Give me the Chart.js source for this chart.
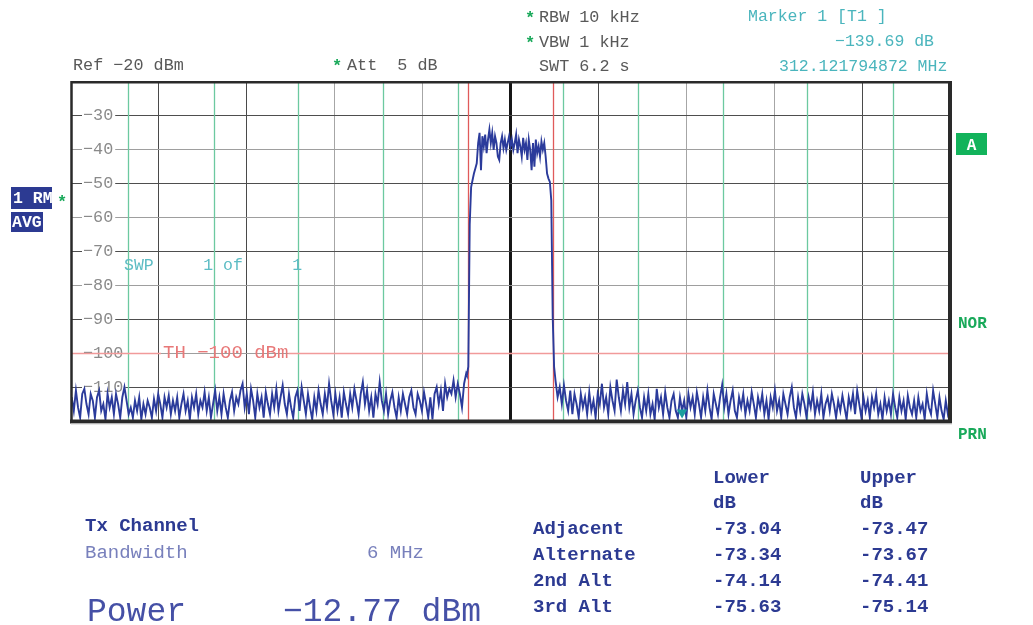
<!DOCTYPE html>
<html>
<head>
<meta charset="utf-8">
<title>Spectrum - ACP</title>
<script src="https://cdn.jsdelivr.net/npm/chart.js@4.4.1/dist/chart.umd.min.js"></script>
<style>
  html, body { margin: 0; padding: 0; background: #fff; }
  canvas { display: block; }
</style>
</head>
<body>
<canvas id="spectrum" width="1033" height="625"></canvas>
<script>
// frequency axis is offset from centre, in MHz; level axis in dBm
const spanHalf = 31.25;
const refLevel = -20;
const bottomLevel = -120;
const levelStep = 10;

// trace: noise floor below the channel, the channel itself, noise floor above
const floorStep = 0.15;
const lowerStart = -31.2;
const lowerFloor = [
  -113, -117, -111, -116, -119, -112, -110.5, -115, -118, -112,
  -114, -119, -113, -111, -117, -115, -119.5, -112, -116, -113,
  -118, -112, -115, -119, -113, -110, -114, -118, -116, -119,
  -114, -117, -113, -119.5, -115, -118, -114, -116, -119, -113.5,
  -117, -112, -115, -119, -113, -116, -112.5, -118, -114, -117,
  -113, -119, -115, -112, -117, -114, -119.5, -113, -116, -112,
  -118, -114, -116, -111.5, -117, -113, -119, -115, -111, -117,
  -113, -118, -112, -116, -119, -114, -111.5, -117, -113, -115,
  -111, -109, -116, -112, -118, -110.5, -114, -119, -112, -116,
  -113, -119, -111.5, -115, -118, -112, -116, -110.5, -117, -113,
  -109.5, -115, -118, -112, -116, -119, -113, -111, -117, -110,
  -114, -118, -112, -116, -119.5, -113, -117, -111, -115, -118,
  -112, -116, -109, -114, -118, -112, -117, -113, -119, -111.5,
  -115, -118, -112, -116, -110.5, -114, -118, -112, -108.5, -115,
  -111, -117, -113, -119, -112, -115, -108.5, -114, -117, -112,
  -118, -114, -111.5, -116, -119, -113, -117, -112, -115, -118,
  -113, -111, -116, -118, -112, -114, -117, -111.5, -115, -119,
  -113, -119.5, -112, -110, -115, -111, -117, -109, -113, -110.5,
  -112, -108, -113, -109, -112, -116, -109, -106
];

const channelStep = 0.1;
const channelStart = -3.1;
const channelTrace = [
  -106.5, -104, -62, -51, -49, -47, -45.5, -44, -38, -35,
  -46, -36, -39, -35.5, -41, -37, -34, -38, -35, -40,
  -36, -38, -42, -43, -38, -36, -39.5, -37, -40, -38,
  -36, -39, -37, -40, -38, -35.5, -41, -37, -39, -42,
  -36.5, -40, -38, -43, -37, -40, -46, -38, -45, -37,
  -41, -39, -42, -37.5, -40, -38, -42, -47, -48.5, -49.5,
  -55, -89, -104
];

const upperStart = 3.2;
const upperFloor = [
  -108, -113, -110, -115, -109.5, -114, -117, -111, -118, -112,
  -115, -119, -112, -116, -113, -118, -111.5, -117, -114, -119,
  -112, -115, -109, -116, -113, -118, -110, -114, -117, -107.8,
  -113, -117, -111, -115, -108.5, -116, -112, -118, -114, -111,
  -116, -119, -113, -117, -112, -118, -115, -119.5, -110.5, -116,
  -113, -118, -111.5, -116, -119, -114, -112, -117, -119, -113,
  -117, -114, -119, -112, -116, -113, -118, -111.5, -115, -119,
  -113, -117, -111, -116, -119.5, -112, -115, -118, -113, -109.3,
  -116, -112, -118, -114, -111, -117, -119, -113, -116, -112,
  -118, -114, -117, -111.5, -115, -119, -113, -116, -112, -118,
  -114, -119.5, -113, -116, -111, -117, -114, -119, -112, -115,
  -118, -113, -110, -116, -119, -113, -117, -112, -115, -119,
  -113, -116, -111.5, -118, -114, -117, -112, -119, -115, -113,
  -117, -112, -115, -119, -114, -117, -112.5, -116, -119.5, -113,
  -116, -112, -118, -111, -115, -119, -113, -117, -114, -119,
  -113, -116, -112, -118, -115, -119.5, -113, -117, -114, -118,
  -112, -116, -119, -113, -117, -114, -119.5, -112.5, -116, -118,
  -114, -119, -113, -117, -115, -119.5, -112, -116, -118, -111,
  -115, -119, -113, -117, -119.5, -114, -118, -116
];

// marker 1 and the threshold line
const markerFreq = 12.2;
const markerLevel = -117.5;
const thresholdLevel = -100;

// channel settings: Tx bandwidth and the outer channel limits (both sides)
const txBandwidth = 6;
const neighbourEdges = [3.74, 9.1, 15.12, 21.1, 27.22];

// measurement results
const txPower = -12.77;
const aclrRows = ['Adjacent', 'Alternate', '2nd Alt', '3rd Alt'];
const aclrLower = [-73.04, -73.34, -74.14, -75.63];
const aclrUpper = [-73.47, -73.67, -74.41, -75.14];

const MONO = '"Liberation Mono", "Courier New", monospace';
const minus = v => (v < 0 ? '\u2212' : '') + Math.abs(v);

function toPoints(start, step, values) {
  return values.map((y, i) => ({ x: start + i * step, y: y }));
}

const trace = [].concat(
  toPoints(lowerStart, floorStep, lowerFloor),
  toPoints(channelStart, channelStep, channelTrace),
  toPoints(upperStart, floorStep, upperFloor)
);

function text(ctx, str, x, y, size, color, weight, align) {
  ctx.font = (weight || 'normal') + ' ' + size + 'px ' + MONO;
  ctx.fillStyle = color;
  ctx.textAlign = align || 'left';
  ctx.textBaseline = 'alphabetic';
  ctx.fillText(str, x, y);
}

// channel limits, threshold and in-plot labels, under the trace
const overlayLines = {
  id: 'overlayLines',
  beforeDatasetsDraw(chart) {
    const ctx = chart.ctx;
    const { top, bottom, left, right } = chart.chartArea;
    const xs = chart.scales.x;
    const ys = chart.scales.y;
    ctx.save();

    const vline = (f, color) => {
      const px = Math.round(xs.getPixelForValue(f)) + 0.5;
      ctx.strokeStyle = color;
      ctx.lineWidth = 1.3;
      ctx.beginPath();
      ctx.moveTo(px, top);
      ctx.lineTo(px, bottom);
      ctx.stroke();
    };
    neighbourEdges.forEach(f => {
      vline(-f, '#6cc9a0');
      vline(f, '#6cc9a0');
    });
    vline(-txBandwidth / 2, '#e05a5a');
    vline(txBandwidth / 2, '#e05a5a');

    // threshold line with a gap for its label
    const ty = Math.round(ys.getPixelForValue(thresholdLevel)) + 0.5;
    const label = 'TH ' + minus(thresholdLevel) + ' dBm';
    ctx.font = '19px ' + MONO;
    const lx = 163;
    const lw = ctx.measureText(label).width;
    ctx.strokeStyle = '#f19a9a';
    ctx.lineWidth = 1.5;
    ctx.beginPath();
    ctx.moveTo(left, ty);
    ctx.lineTo(lx - 2, ty);
    ctx.moveTo(lx + lw, ty);
    ctx.lineTo(right, ty);
    ctx.stroke();
    text(ctx, label, lx, ty + 4, 19, '#e87878');

    text(ctx, 'SWP     1 of     1', 124, 270, 16.5, '#5cbcc4');
    ctx.restore();
  }
};

// frame, header, side soft keys and the ACP result table
const annotations = {
  id: 'annotations',
  afterDatasetsDraw(chart) {
    const ctx = chart.ctx;
    const { top, bottom, left, right } = chart.chartArea;
    ctx.save();

    ctx.strokeStyle = '#2a2a2a';
    ctx.lineWidth = 2.5;
    ctx.beginPath();
    ctx.moveTo(left + 0.5, bottom);
    ctx.lineTo(left + 0.5, top + 0.2);
    ctx.lineTo(right, top + 0.2);
    ctx.stroke();
    ctx.lineWidth = 4;
    ctx.beginPath();
    ctx.moveTo(right, top - 1);
    ctx.lineTo(right, bottom + 0.5);
    ctx.lineTo(left - 1, bottom + 0.5);
    ctx.stroke();
    ctx.strokeStyle = '#cfcfcf';
    ctx.lineWidth = 1;
    ctx.beginPath();
    ctx.moveTo(left, bottom + 3);
    ctx.lineTo(right + 2, bottom + 3);
    ctx.stroke();

    const ink = '#595959';
    const green = '#19a95a';
    const teal = '#4ab5bd';
    const navy = '#2c3a92';
    const navyLight = '#7880bc';

    text(ctx, 'Ref ' + minus(refLevel) + ' dBm', 73, 70, 16.8, ink);
    text(ctx, '*', 332, 71, 17, green, 'bold');
    text(ctx, 'Att  5 dB', 347, 70, 16.8, ink);
    text(ctx, '*', 525, 23, 17, green, 'bold');
    text(ctx, 'RBW 10 kHz', 539, 22, 16.8, ink);
    text(ctx, '*', 525, 48, 17, green, 'bold');
    text(ctx, 'VBW 1 kHz', 539, 47, 16.8, ink);
    text(ctx, 'SWT 6.2 s', 539, 71, 16.8, ink);

    text(ctx, 'Marker 1 [T1 ]', 748, 21, 16.5, teal);
    text(ctx, '\u2212139.69 dB', 835, 46, 16.5, teal);
    text(ctx, '312.121794872 MHz', 779, 71, 16.5, teal);

    ctx.fillStyle = navy;
    ctx.fillRect(11, 187, 41, 22);
    ctx.fillRect(11, 212, 32, 20);
    text(ctx, '1 RM', 13, 203, 16.5, '#fff', 'bold');
    text(ctx, 'AVG', 12, 227, 16.5, '#fff', 'bold');
    text(ctx, '*', 57, 207, 17, green, 'bold');

    ctx.fillStyle = '#12b35b';
    ctx.fillRect(956, 133, 31, 22);
    text(ctx, 'A', 971.5, 150, 16, '#fff', 'bold', 'center');
    text(ctx, 'NOR', 958, 328, 16, green, 'bold');
    text(ctx, 'PRN', 958, 439, 16, green, 'bold');

    text(ctx, 'Tx Channel', 85, 531, 19, navy, 'bold');
    text(ctx, 'Bandwidth', 85, 558, 19, navyLight);
    text(ctx, txBandwidth + ' MHz', 367, 558, 19, navyLight);
    text(ctx, 'Power', 87, 621, 33, '#4550a6');
    text(ctx, minus(txPower.toFixed(2)) + ' dBm', 283, 621, 33, '#4550a6');

    text(ctx, 'Lower', 713, 483, 19, navy, 'bold');
    text(ctx, 'Upper', 860, 483, 19, navy, 'bold');
    text(ctx, 'dB', 713, 508, 19, navy, 'bold');
    text(ctx, 'dB', 860, 508, 19, navy, 'bold');
    aclrRows.forEach((name, i) => {
      const y = 534 + i * 26;
      text(ctx, name, 533, y, 19, navy, 'bold');
      text(ctx, aclrLower[i].toFixed(2), 713, y, 19, navy, 'bold');
      text(ctx, aclrUpper[i].toFixed(2), 860, y, 19, navy, 'bold');
    });
    ctx.restore();
  }
};

const xShade = ['#000', '#4a4a4a', '#4a4a4a', '#a6a6a6', '#a6a6a6', '#161616',
                '#4a4a4a', '#a6a6a6', '#a6a6a6', '#4a4a4a', '#000'];

new Chart(document.getElementById('spectrum'), {
  type: 'line',
  data: {
    datasets: [
      {
        label: 'Marker 1',
        data: [{ x: markerFreq, y: markerLevel }],
        showLine: false,
        pointStyle: 'triangle',
        rotation: 180,
        pointRadius: 6,
        pointBackgroundColor: '#1a9e9e',
        pointBorderWidth: 0
      },
      {
        label: 'Trace 1',
        data: trace,
        borderColor: '#2b3b9b',
        borderWidth: 1.9,
        borderJoinStyle: 'miter',
        pointRadius: 0,
        tension: 0,
        fill: false
      }
    ]
  },
  options: {
    responsive: false,
    animation: false,
    devicePixelRatio: 1,
    layout: { padding: { left: 71, top: 82, right: 83, bottom: 204 } },
    plugins: { legend: { display: false }, tooltip: { enabled: false } },
    scales: {
      x: {
        type: 'linear',
        min: -spanHalf,
        max: spanHalf,
        afterFit(scale) { scale.height = 0; },
        border: { display: false },
        ticks: { display: false, stepSize: spanHalf / 5 },
        grid: {
          drawTicks: false,
          color: c => xShade[c.index] || '#4a4a4a',
          lineWidth: c => (c.index === 5 ? 3 : 1)
        }
      },
      y: {
        type: 'linear',
        min: bottomLevel,
        max: refLevel,
        afterFit(scale) { scale.width = 0; },
        border: { display: false },
        ticks: {
          stepSize: levelStep,
          mirror: true,
          padding: 12,
          color: '#8a8a8a',
          font: { family: MONO, size: 16.8 },
          showLabelBackdrop: true,
          backdropColor: '#fff',
          backdropPadding: { left: 1, right: 2, top: 0, bottom: 0 },
          callback: v => (v === refLevel || v === bottomLevel) ? null : minus(v)
        },
        grid: {
          drawTicks: false,
          color: c => (c.tick && c.tick.value % 20 === 0) ? '#9e9e9e' : '#4e4e4e',
          lineWidth: 1
        }
      }
    }
  },
  plugins: [overlayLines, annotations]
});
</script>
</body>
</html>
